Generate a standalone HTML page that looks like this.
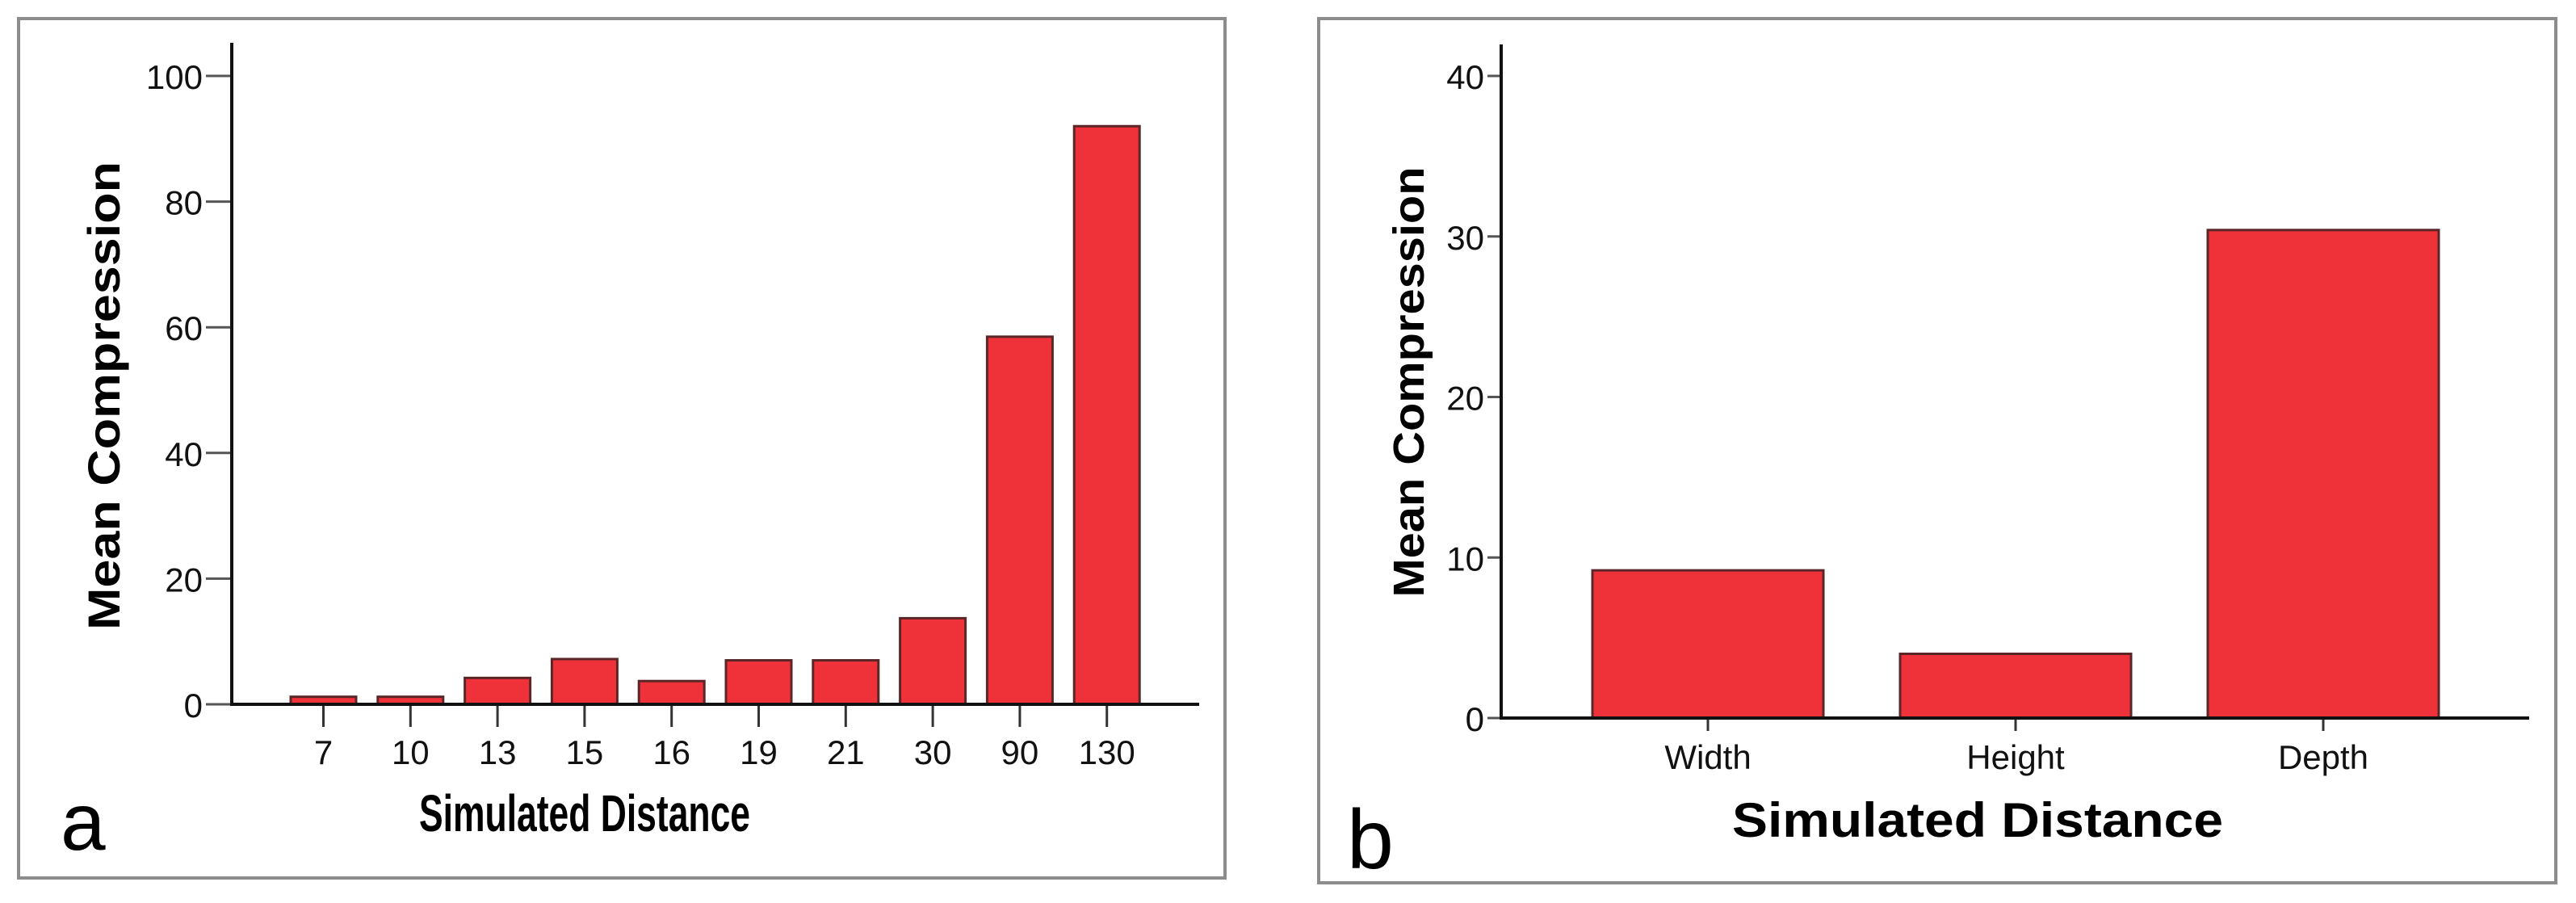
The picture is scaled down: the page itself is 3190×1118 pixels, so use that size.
<!DOCTYPE html>
<html><head><meta charset="utf-8"><style>
html,body{margin:0;padding:0;background:#fff;}
svg{display:block;font-family:"Liberation Sans",Arial,sans-serif;}
</style></head><body>
<svg id="fig" width="3190" height="1118" viewBox="0 0 3190 1118" xmlns="http://www.w3.org/2000/svg">
<rect x="23" y="23" width="1494" height="1064" fill="#fff" stroke="#8c8c8c" stroke-width="4"/>
<rect x="1633" y="23" width="1532" height="1070" fill="#fff" stroke="#8c8c8c" stroke-width="4"/>
<g id="ga"></g>
<g id="gb"></g>
<text x="75" y="1052" font-size="100" fill="#000">a</text>
<text x="1668" y="1075" font-size="104" fill="#000">b</text>
<text x="724" y="1029" font-size="64" font-weight="bold" text-anchor="middle" textLength="410" lengthAdjust="spacingAndGlyphs">Simulated Distance</text>
<text x="2449" y="1036" font-size="60" font-weight="bold" text-anchor="middle" textLength="608" lengthAdjust="spacingAndGlyphs">Simulated Distance</text>
<text transform="translate(148,490) rotate(-90)" font-size="56" font-weight="bold" text-anchor="middle" textLength="580" lengthAdjust="spacingAndGlyphs">Mean Compression</text>
<text transform="translate(1763,473) rotate(-90)" font-size="54" font-weight="bold" text-anchor="middle" textLength="533" lengthAdjust="spacingAndGlyphs">Mean Compression</text>
</svg>
<script>
const catsA = ["7","10","13","15","16","19","21","30","90","130"];
const valsA = [1.2,1.2,4.2,7.2,3.7,7.0,7.0,13.7,58.5,92.0];
const ticksA = [0,20,40,60,80,100];
const catsB = ["Width","Height","Depth"];
const valsB = [9.2,4.0,30.4];
const ticksB = [0,10,20,30,40];

const NS = "http://www.w3.org/2000/svg";
function mk(parent, tag, attrs, text){
  const e = document.createElementNS(NS, tag);
  for (const k in attrs) e.setAttribute(k, attrs[k]);
  if (text !== undefined) e.textContent = text;
  parent.appendChild(e);
  return e;
}
function drawChart(g, cfg, cats, vals, ticks, key){
  const y = v => cfg.y0 - (v - 0) * (cfg.y0 - cfg.yTop) / (cfg.vTop);
  const xc = i => cfg.x0c + i * cfg.step;
  cats.forEach((c, i) => {
    const r = mk(g, "rect", {x: xc(i) - cfg.bw/2, y: y(vals[i]), width: cfg.bw, height: cfg.y0 - y(vals[i]), fill: "#ef323a", stroke: "#5b2628", "stroke-width": 3});
    
    
    const t = mk(g, "line", {x1: xc(i), x2: xc(i), y1: cfg.y0, y2: cfg.y0 + cfg.xtick, stroke: "#333", "stroke-width": 3});
    
    
    const l = mk(g, "text", {x: xc(i), y: cfg.xlabY, "font-size": cfg.fs, "text-anchor": "middle", fill: "#111"}, c);
    
    
  });
  ticks.forEach(v => {
    const t = mk(g, "line", {x1: cfg.ax - cfg.ytick, x2: cfg.ax, y1: y(v), y2: y(v), stroke: "#555", "stroke-width": 3});
    
    
    const l = mk(g, "text", {x: cfg.ax - cfg.ytick - 4, y: y(v) + 16, "font-size": cfg.fs, "text-anchor": "end", fill: "#111"}, String(v));
    
    
  });
  const ya = mk(g, "line", {x1: cfg.ax, x2: cfg.ax, y1: cfg.axTop, y2: cfg.y0 + 2, stroke: "#111", "stroke-width": 4});
  
  
  const xa = mk(g, "line", {x1: cfg.ax, x2: cfg.xEnd, y1: cfg.y0, y2: cfg.y0, stroke: "#111", "stroke-width": 4});
  
  
}
drawChart(document.getElementById("ga"),
  {y0: 872, yTop: 94, vTop: 100, ax: 287, axTop: 53, xEnd: 1485, x0c: 400.5, step: 107.8, bw: 81, xtick: 28, ytick: 32, fs: 42, xlabY: 946},
  catsA, valsA, ticksA, "a");
drawChart(document.getElementById("gb"),
  {y0: 889, yTop: 94, vTop: 40, ax: 1859, axTop: 55, xEnd: 3132, x0c: 2115, step: 381, bw: 286, xtick: 16, ytick: 17, fs: 42, xlabY: 952},
  catsB, valsB, ticksB, "b");
</script>
</body></html>
